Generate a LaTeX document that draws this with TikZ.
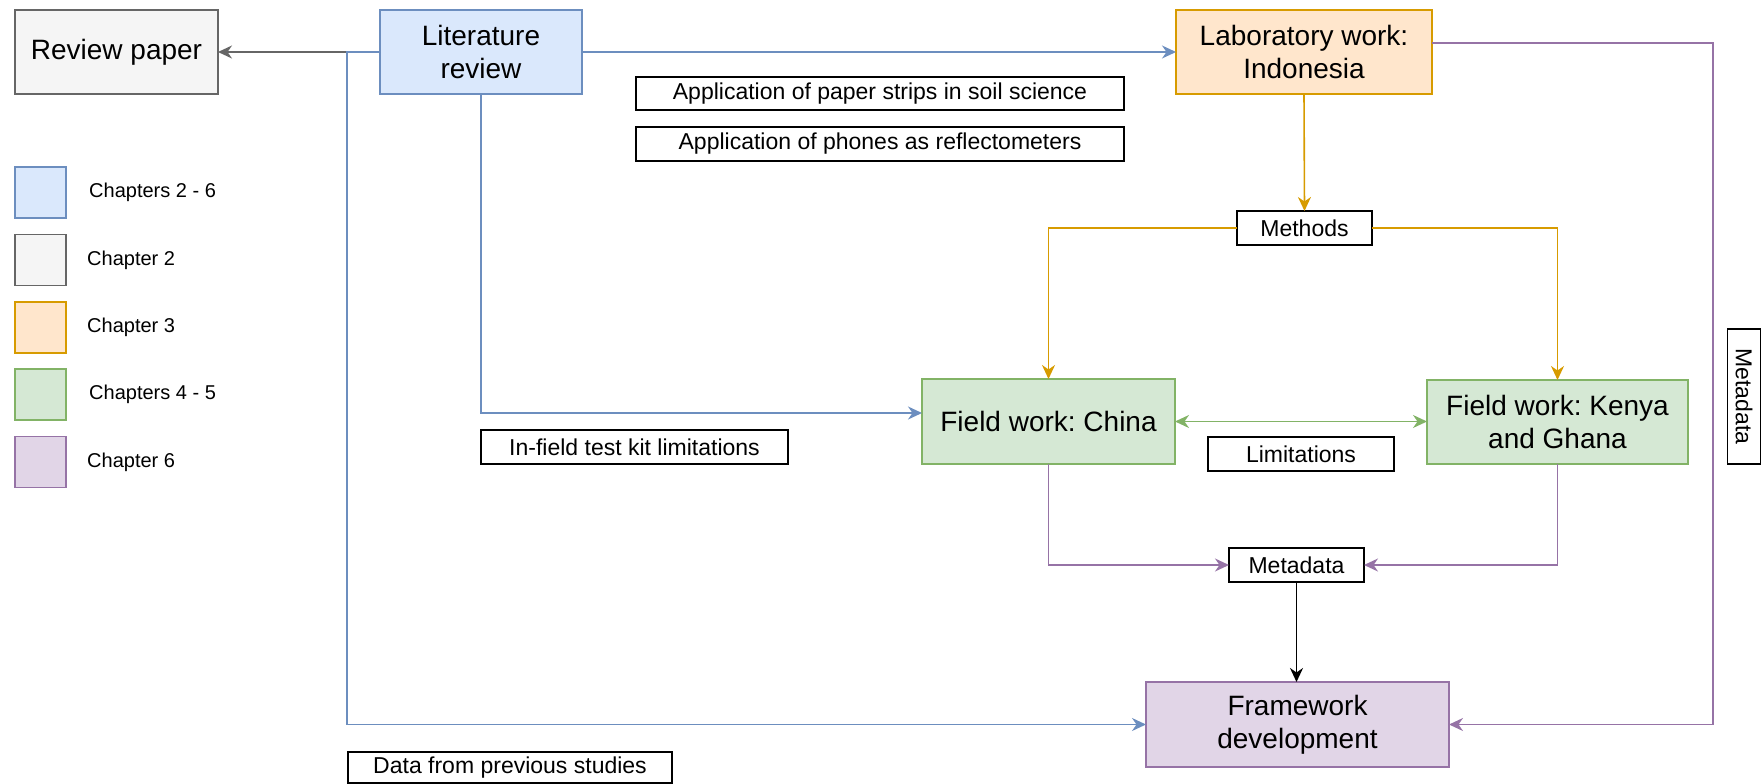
\documentclass[tikz,border=0pt]{standalone}
\usepackage{fontspec}
\setmainfont{Liberation Sans}
\usetikzlibrary{arrows.meta,calc}
\frenchspacing

\definecolor{blueF}{HTML}{DAE8FC}\definecolor{blueS}{HTML}{6C8EBF}
\definecolor{grayF}{HTML}{F5F5F5}\definecolor{grayS}{HTML}{666666}
\definecolor{orangeF}{HTML}{FFE6CC}\definecolor{orangeS}{HTML}{D79B00}
\definecolor{greenF}{HTML}{D5E8D4}\definecolor{greenS}{HTML}{82B366}
\definecolor{purpleF}{HTML}{E1D5E7}\definecolor{purpleS}{HTML}{9673A6}

\begin{document}
\begin{tikzpicture}[x=1pt,y=-1pt,
  box/.style={draw, line width=1.5pt, inner sep=0pt, outer sep=0pt, align=center,
    font=\fontsize{28}{33}\selectfont},
  tag/.style={draw=black, fill=white, line width=1.5pt, inner sep=0pt, outer sep=0pt,
    font=\fontsize{23}{27}\selectfont},
  key/.style={draw, line width=1.5pt, minimum width=51pt, minimum height=51pt, inner sep=0pt},
  keytext/.style={anchor=west, inner sep=0pt, font=\fontsize{20}{24}\selectfont},
  tip/.tip={Stealth[length=14pt,width=13pt,inset=4.5pt]},
  link/.style={line width=1.6pt, -tip},
]
\useasboundingbox (0,0) rectangle (1762,784);

% main boxes
\node[box, fill=grayF, draw=grayS, minimum width=203pt, minimum height=84pt] (review) at (116.5,52) {Review paper};
\node[box, fill=blueF, draw=blueS, minimum width=202pt, minimum height=84pt] (lit) at (481,52) {Literature\\review};
\node[box, fill=orangeF, draw=orangeS, minimum width=256pt, minimum height=84pt] (lab) at (1304,52) {Laboratory work:\\Indonesia};
\node[box, fill=greenF, draw=greenS, minimum width=253pt, minimum height=85pt] (china) at (1048.5,421.5) {Field work: China};
\node[box, fill=greenF, draw=greenS, minimum width=261pt, minimum height=84pt] (kenya) at (1557.5,422) {Field work: Kenya\\and Ghana};
\node[box, fill=purpleF, draw=purpleS, minimum width=303pt, minimum height=85pt] (frame) at (1297.5,724.5) {Framework\\development};

% label boxes
\node[tag, minimum width=488pt, minimum height=33pt] (strips) at (880,93.5) {Application of paper strips in soil science};
\node[tag, minimum width=488pt, minimum height=34pt] (phones) at (880,144) {Application of phones as reflectometers};
\node[tag, minimum width=135pt, minimum height=34pt] (methods) at (1304.5,228) {Methods};
\node[tag, minimum width=186pt, minimum height=34pt] (limits) at (1301,454) {Limitations};
\node[tag, minimum width=307pt, minimum height=34pt] (kit) at (634.5,447) {In-field test kit limitations};
\node[tag, minimum width=135pt, minimum height=34pt] (meta) at (1296.5,565) {Metadata};
\node[tag, minimum width=324pt, minimum height=31pt] (prev) at (510,767.5) {Data from previous studies};
\node[tag, rotate=-90, minimum width=135pt, minimum height=33pt] (metaside) at (1744,396.5) {Metadata};

% legend
\node[key, fill=blueF, draw=blueS] (k1) at (40.5,192.5) {};
\node[key, fill=grayF, draw=grayS] (k2) at (40.5,260) {};
\node[key, fill=orangeF, draw=orangeS] (k3) at (40.5,327.5) {};
\node[key, fill=greenF, draw=greenS] (k4) at (40.5,394.5) {};
\node[key, fill=purpleF, draw=purpleS] (k5) at (40.5,462) {};
\node[keytext] (t1) at (89,192.5) {Chapters 2 - 6};
\node[keytext] (t2) at (87,260) {Chapter 2};
\node[keytext] (t3) at (87,327.5) {Chapter 3};
\node[keytext] (t4) at (89,394.5) {Chapters 4 - 5};
\node[keytext] (t5) at (87,462) {Chapter 6};

% bend points
\coordinate (blueRail) at (347,400);
\coordinate (purpleRail) at (1713,400);
\coordinate (labOut) at ($(lab.east)+(0,-9)$);
\coordinate (chinaIn) at ($(china.west)+(0,-8.5)$);

% connectors
\draw[link, draw=grayS] (lit.west) -- (review.east);
\draw[link, draw=blueS] (lit.west) -| (blueRail) |- (frame.west);
\draw[link, draw=blueS] (lit.south) |- (chinaIn);
\draw[link, draw=blueS] (lit.east) -- (lab.west);
\draw[link, draw=purpleS] (labOut) -| (purpleRail) |- (frame.east);
\draw[link, draw=orangeS] (lab.south) -- (methods.north);
\draw[link, draw=orangeS] (methods.west) -| (china.north);
\draw[link, draw=orangeS] (methods.east) -| (kenya.north);
\draw[line width=1.6pt, draw=greenS, tip-tip] (china.east) -- (china.east -| kenya.west);
\draw[link, draw=purpleS] (china.south) |- (meta.west);
\draw[link, draw=purpleS] (kenya.south) |- (meta.east);
\draw[link, draw=black] (meta.south) -- (meta.south |- frame.north);
\end{tikzpicture}
\end{document}
